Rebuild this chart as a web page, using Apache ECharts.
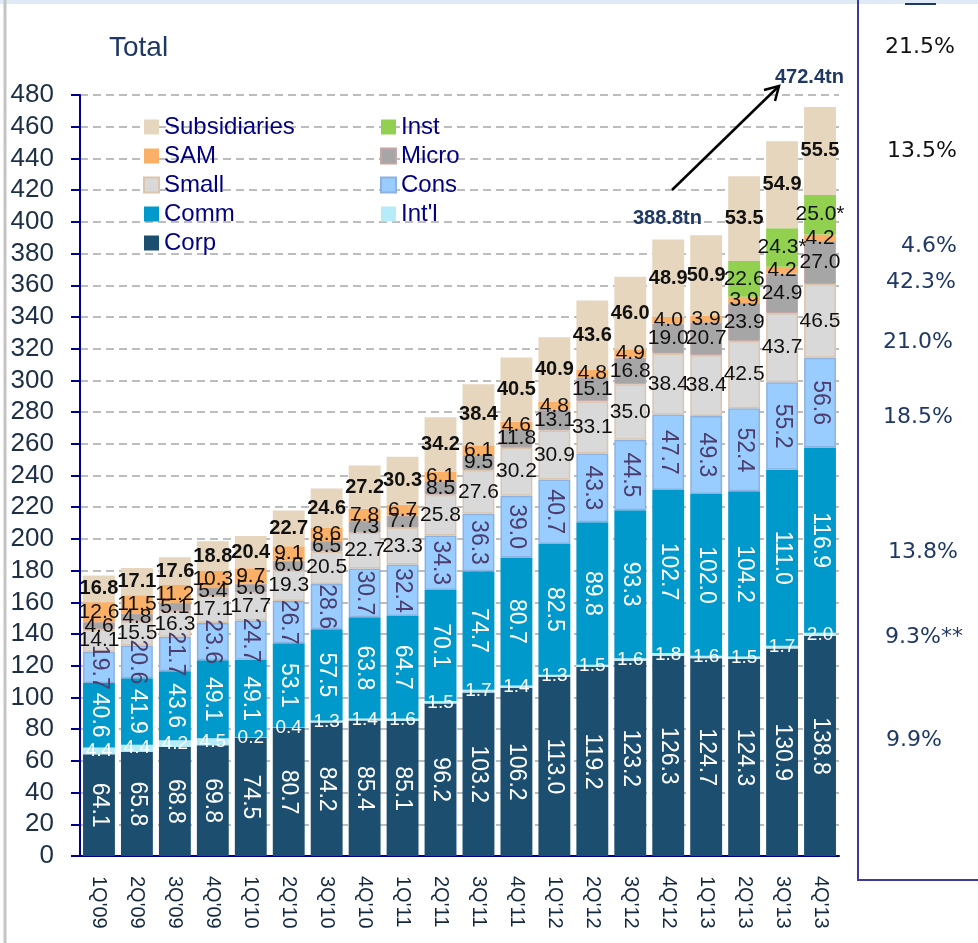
<!DOCTYPE html>
<html>
<head>
<meta charset="utf-8">
<script src="https://cdn.jsdelivr.net/npm/echarts@6/dist/echarts.min.js"></script>
<style>
  html, body { margin: 0; padding: 0; background: #fff; }
  #chart { width: 978px; height: 943px; }
</style>
</head>
<body>
<div id="chart"></div>
<script>
const quarters = ["1Q'09", "2Q'09", "3Q'09", "4Q'09", "1Q'10", "2Q'10", "3Q'10", "4Q'10", "1Q'11", "2Q'11",
  "3Q'11", "4Q'11", "1Q'12", "2Q'12", "3Q'12", "4Q'12", "1Q'13", "2Q'13", "3Q'13", "4Q'13"];

const corp = [64.1, 65.8, 68.8, 69.8, 74.5, 80.7, 84.2, 85.4, 85.1, 96.2, 103.2, 106.2, 113.0, 119.2, 123.2, 126.3, 124.7, 124.3, 130.9, 138.8];
const intl = [4.4, 4.4, 4.2, 4.5, 0.2, 0.4, 1.3, 1.4, 1.6, 1.5, 1.7, 1.4, 1.3, 1.5, 1.6, 1.8, 1.6, 1.5, 1.7, 2.0];
const comm = [40.6, 41.9, 43.6, 49.1, 49.1, 53.1, 57.5, 63.8, 64.7, 70.1, 74.7, 80.7, 82.5, 89.8, 93.3, 102.7, 102.0, 104.2, 111.0, 116.9];
const cons = [19.7, 20.6, 21.7, 23.6, 24.7, 26.7, 28.6, 30.7, 32.4, 34.3, 36.3, 39.0, 40.7, 43.3, 44.5, 47.7, 49.3, 52.4, 55.2, 56.6];
const small = [14.1, 15.5, 16.3, 17.1, 17.7, 19.3, 20.5, 22.7, 23.3, 25.8, 27.6, 30.2, 30.9, 33.1, 35.0, 38.4, 38.4, 42.5, 43.7, 46.5];
const micro = [4.6, 4.8, 5.1, 5.4, 5.6, 6.0, 6.5, 7.3, 7.7, 8.5, 9.5, 11.8, 13.1, 15.1, 16.8, 19.0, 20.7, 23.9, 24.9, 27.0];
const sam = [12.6, 11.5, 11.2, 10.3, 9.7, 9.1, 8.6, 7.8, 6.7, 6.1, 6.1, 4.6, 4.8, 4.8, 4.9, 4.0, 3.9, 3.9, 4.2, 4.2];
const inst = [0, 0, 0, 0, 0, 0, 0, 0, 0, 0, 0, 0, 0, 0, 0, 0, 0, 22.6, 24.3, 25.0];
const instNotes = ["", "", "", "", "", "", "", "", "", "", "", "", "", "", "", "", "", "", "*", "*"];
const subs = [16.8, 17.1, 17.6, 18.8, 20.4, 22.7, 24.6, 27.2, 30.3, 34.2, 38.4, 40.5, 40.9, 43.6, 46.0, 48.9, 50.9, 53.5, 54.9, 55.5];

const totalNotes = ["388.8tn", "472.4tn"];
const growthRates = ["21.5%", "13.5%", "4.6%", "42.3%", "21.0%", "18.5%", "13.8%", "9.3%**", "9.9%"];

const FONT = "Liberation Sans";
const fmt = (p) => p.value.toFixed(1);

function vLabel(color) {
  return { show: true, position: "inside", rotate: -90, color, fontSize: 23, fontFamily: FONT, formatter: fmt };
}
function hLabel(color, size, bold) {
  return { show: true, position: "inside", color, fontSize: size, fontFamily: FONT,
    fontWeight: bold ? "bold" : "normal", formatter: fmt };
}

const chart = echarts.init(document.getElementById("chart"));

const series = [
  { name: "Corp", data: corp, itemStyle: { color: "#1c4e70" }, label: vLabel("#ffffff") },
  { name: "Int'l", data: intl, itemStyle: { color: "#b5ecf8" }, label: hLabel("#ffffff", 19) },
  { name: "Comm", data: comm, itemStyle: { color: "#0099cc" }, label: vLabel("#ffffff") },
  { name: "Cons", data: cons, itemStyle: { color: "#99ccff", borderColor: "#8eb2df", borderWidth: 1.5 }, label: vLabel("#4c3d6d") },
  { name: "Small", data: small, itemStyle: { color: "#d9d9d9", borderColor: "#dcc5ad", borderWidth: 1.5 }, label: hLabel("#111111", 21) },
  { name: "Micro", data: micro, itemStyle: { color: "#a6a6a6", borderColor: "#c4a6a6", borderWidth: 1 }, label: hLabel("#111111", 21) },
  { name: "SAM", data: sam, itemStyle: { color: "#fab066" }, label: hLabel("#111111", 21) },
  { name: "Inst", data: inst, itemStyle: { color: "#92d050" },
    label: Object.assign(hLabel("#111111", 21), {
      formatter: (p) => (p.value ? p.value.toFixed(1) + instNotes[p.dataIndex] : "")
    }) },
  { name: "Subsidiaries", data: subs, itemStyle: { color: "#e6d6bd" }, label: hLabel("#111111", 20, true) },
].map((s) => Object.assign({ type: "bar", stack: "total", barCategoryGap: "16%", silent: true }, s));

const legendText = { color: "#000080", fontSize: 24, lineHeight: 22, fontFamily: FONT };

chart.setOption({
  animation: false,
  backgroundColor: "#ffffff",
  title: {
    text: "Total", left: 104, top: 29,
    textStyle: { color: "#1f3864", fontSize: 28, fontWeight: "normal", fontFamily: FONT },
  },
  legend: [
    {
      data: ["Subsidiaries", "SAM", "Small", "Comm", "Corp"],
      orient: "vertical", left: 138, top: 110, itemWidth: 15, itemHeight: 15, itemGap: 5,
      icon: "rect", textStyle: legendText,
    },
    {
      data: ["Inst", "Micro", "Cons", "Int'l"],
      orient: "vertical", left: 375, top: 110, itemWidth: 15, itemHeight: 15, itemGap: 5,
      icon: "rect", textStyle: legendText,
    },
  ],
  grid: { left: 80, right: 139, top: 95, bottom: 87 },
  xAxis: {
    type: "category",
    data: quarters,
    axisLine: { lineStyle: { color: "#00008b", width: 2 } },
    axisTick: { lineStyle: { color: "#00008b", width: 2 }, length: 8 },
    axisLabel: { rotate: -90, margin: 20, color: "#13283f", fontSize: 20, fontFamily: FONT },
  },
  yAxis: {
    type: "value", min: 0, max: 480, interval: 20,
    axisLine: { show: true, lineStyle: { color: "#00008b", width: 2 } },
    axisTick: { show: true, length: 9, lineStyle: { color: "#00008b", width: 2 } },
    axisLabel: { margin: 26, color: "#1c2f44", fontSize: 26, fontFamily: FONT },
    splitLine: { lineStyle: { color: "#bdbdbd", width: 2, type: [8, 5] } },
  },
  series,
});

// annotations: totals arrow, right-hand growth panel
const gx = [885, 887, 901, 886, 883, 883, 888, 885, 886];
const gy = [47, 151, 246, 282, 342, 417, 552, 637, 740];
const graphic = [
  { type: "rect", shape: { x: 0, y: 0, width: 978, height: 4 }, style: { fill: "#dfeaf6" } },
  { type: "line", shape: { x1: 5, y1: 0, x2: 5, y2: 943 }, style: { stroke: "#c4c4c4", lineWidth: 3 } },
  { type: "polyline", shape: { points: [[858, 0], [858, 880], [990, 880]] }, style: { stroke: "#3b3b98", lineWidth: 2, fill: null } },
  { type: "line", shape: { x1: 905, y1: 4, x2: 936, y2: 4 }, style: { stroke: "#1f3864", lineWidth: 2 } },
  { type: "line", shape: { x1: 672, y1: 190, x2: 779, y2: 86 }, style: { stroke: "#000", lineWidth: 2.5 } },
  { type: "polyline", shape: { points: [[764, 90], [779, 86], [775, 101]] }, style: { stroke: "#000", lineWidth: 2.5, fill: null } },
  { type: "text", x: 633, y: 218, style: { text: totalNotes[0], fill: "#1f3864", font: "bold 20px " + FONT, textVerticalAlign: "middle" } },
  { type: "text", x: 775, y: 77, style: { text: totalNotes[1], fill: "#1f3864", font: "bold 20px " + FONT, textVerticalAlign: "middle" } },
];
growthRates.forEach((t, i) => {
  graphic.push({
    type: "text", x: gx[i], y: gy[i],
    style: { text: t, fill: i < 2 ? "#111111" : "#1f3864", font: "22px DejaVu Sans", textVerticalAlign: "middle" },
  });
});
chart.setOption({ graphic });
</script>
</body>
</html>
